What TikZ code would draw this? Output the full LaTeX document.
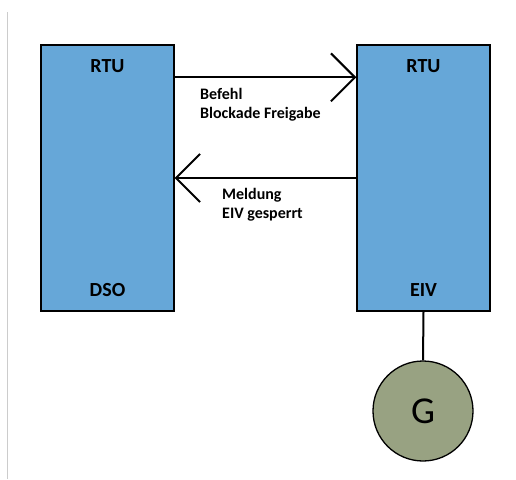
\documentclass[tikz,border=0pt]{standalone}
\usepackage{fontspec}
\setmainfont{Carlito}
\usetikzlibrary{arrows.meta}
\definecolor{boxblue}{HTML}{66A7D8}
\definecolor{gengreen}{HTML}{98A282}

\begin{document}
\begin{tikzpicture}[x=1pt,y=-1pt,
  unit/.style={draw=black,line width=1.3pt,fill=boxblue,minimum width=133pt,minimum height=266pt,inner sep=0pt},
  title/.style={font=\fontsize{20}{24}\selectfont\bfseries,anchor=base,inner sep=0pt},
  msg/.style={font=\fontsize{16}{19.5}\selectfont\bfseries,align=left,anchor=north west,inner sep=0pt},
  link/.style={line width=2pt,-{Straight Barb[length=24pt,width=48pt]}},
  gen/.style={circle,draw=black,line width=1.3pt,fill=gengreen,minimum size=100pt,inner sep=0pt,font=\fontsize{38}{40}\selectfont}]
  \useasboundingbox (0,0) rectangle (516,479);
  \draw[black!20,line width=1pt] (7,12) -- (7,479);
  % the two stations
  \node[unit] (dso) at (107.5,178) {};
  \node[unit] (eiv) at (423.5,178) {};
  \node[title] (dso-rtu) at (107.5,72.5) {RTU};
  \node[title] (dso-name) at (107.5,296) {DSO};
  \node[title] (eiv-rtu) at (423.5,72.5) {RTU};
  \node[title] (eiv-name) at (423.5,296) {EIV};
  % messages
  \draw[link] ([yshift=-33pt]dso.north east) -- ([yshift=-33pt]eiv.north west);
  \draw[link] (eiv.west) -- (dso.east);
  \node[msg] (cmd) at (200,88) {Befehl\\Blockade Freigabe};
  \node[msg] (ack) at (222,188) {Meldung\\EIV gesperrt};
  % generator
  \node[gen] (g) at (423,411) {G};
  \draw[line width=2pt] (eiv.south) -- (g.north);
\end{tikzpicture}
\end{document}
